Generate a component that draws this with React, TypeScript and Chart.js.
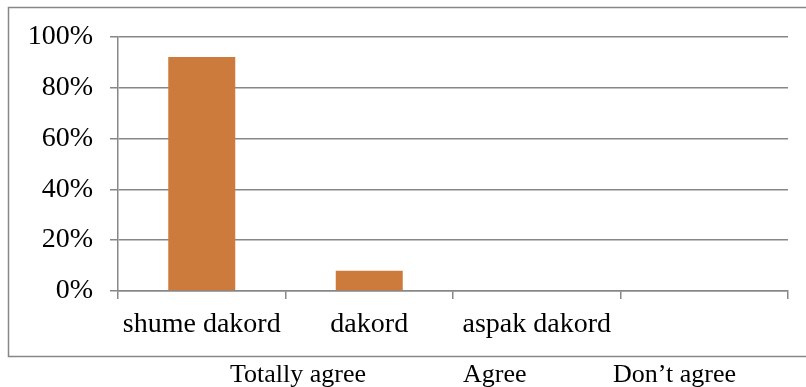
import React, { useEffect, useRef } from "react";
import { Chart, registerables } from "chart.js";

Chart.register(...registerables);

// Response categories (Albanian) and their share of answers
const categories = ["shume dakord", "dakord", "aspak dakord", ""];
const shares = [0.92, 0.08, 0, 0];
const yTicks = [0, 0.2, 0.4, 0.6, 0.8, 1];

// English translations printed under the frame
const captions = ["Totally agree", "Agree", "Don\u2019t agree"];
const captionX = [230, 463, 613];
const captionBaseline = 382;

const W = 806;
const H = 387;
const SERIF = "'Liberation Serif', 'Times New Roman', serif";
const GRID = "#878787";
const BAR = "#CC7B3C";

const frameAndCaptions = {
  id: "frameAndCaptions",
  beforeDraw(chart: any) {
    const ctx = chart.ctx;
    ctx.save();
    ctx.fillStyle = "#ffffff";
    ctx.fillRect(0, 0, chart.width, chart.height);
    ctx.restore();
  },
  afterDraw(chart: any) {
    const ctx = chart.ctx;
    ctx.save();
    ctx.strokeStyle = GRID;
    ctx.lineWidth = 1.5;
    ctx.strokeRect(8.5, 7.5, chart.width, 349);
    ctx.fillStyle = "#000000";
    ctx.font = `26px ${SERIF}`;
    ctx.textAlign = "left";
    ctx.textBaseline = "alphabetic";
    captions.forEach((c, i) => ctx.fillText(c, captionX[i], captionBaseline));
    ctx.restore();
  },
};

export default function App() {
  const ref = useRef<HTMLCanvasElement | null>(null);

  useEffect(() => {
    if (!ref.current) return;
    const chart = new Chart(ref.current, {
      type: "bar",
      data: {
        labels: categories,
        datasets: [
          {
            data: shares,
            backgroundColor: BAR,
            borderWidth: 0,
            barPercentage: 0.4,
            categoryPercentage: 1,
          },
        ],
      },
      options: {
        responsive: false,
        animation: false,
        devicePixelRatio: 1,
        layout: { padding: { left: 8, top: 36.7, right: 18, bottom: 0 } },
        plugins: {
          legend: { display: false },
          tooltip: { enabled: false },
          title: { display: false },
        },
        scales: {
          x: {
            grid: {
              drawOnChartArea: false,
              drawTicks: true,
              tickLength: 8,
              color: GRID,
              lineWidth: 1.5,
              offset: true,
            },
            border: { display: true, color: GRID, width: 1.5 },
            ticks: {
              color: "#000000",
              font: { family: SERIF, size: 28 },
              padding: 9,
              maxRotation: 0,
              minRotation: 0,
              autoSkip: false,
            },
            afterFit(scale: any) {
              scale.height = H - 291;
            },
          },
          y: {
            min: 0,
            max: 1,
            afterBuildTicks(scale: any) {
              scale.ticks = yTicks.map((v) => ({ value: v }));
            },
            grid: {
              drawOnChartArea: true,
              drawTicks: true,
              tickLength: 8,
              color: GRID,
              lineWidth: 1.5,
            },
            border: { display: true, color: GRID, width: 1.5 },
            ticks: {
              color: "#000000",
              font: { family: SERIF, size: 28 },
              padding: 17,
              callback: (v: any) => `${Math.round(Number(v) * 100)}%`,
            },
            afterFit(scale: any) {
              scale.width = 110;
            },
          },
        },
      },
      plugins: [frameAndCaptions],
    });
    return () => chart.destroy();
  }, []);

  return (
    <div style={{ position: "absolute", left: 0, top: 0, width: W, height: H }}>
      <canvas ref={ref} width={W} height={H} style={{ display: "block" }} />
    </div>
  );
}
